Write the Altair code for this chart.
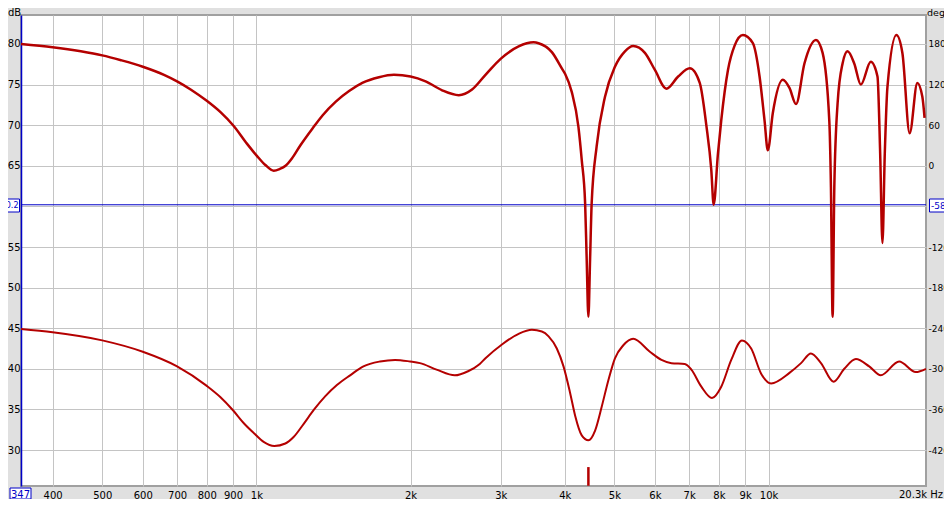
import altair as alt
import pandas as pd

# ---------------- data ----------------
# upper trace: measured level, Hz / dB
top_freq = [347, 400, 454, 500, 544, 600, 660, 700, 744, 800, 851, 903, 959, 1003,
            1041, 1081, 1110, 1140, 1173, 1218, 1287, 1346, 1429, 1517, 1610, 1735,
            1856, 2000, 2140, 2305, 2484, 2637, 2801, 3002, 3251, 3477, 3556, 3775,
            3948, 4008, 4128, 4254, 4318, 4384, 4415, 4449, 4483, 4515, 4617, 4794,
            5013, 5244, 5442, 5736, 6000, 6319, 6661, 7018, 7340, 7560, 7731, 7814,
            7966, 8085, 8333, 8586, 8913, 9320, 9605, 9822, 9968, 10195, 10662, 10987,
            11317, 11752, 12377, 12753, 13141, 13239, 13340, 13442, 13642, 13950,
            14267, 14701, 15144, 15837, 16321, 16520, 16690, 16866, 17068, 17770,
            18255, 18862, 19524, 19970, 20170]
top_db = [80.0, 79.6, 79.1, 78.6, 78.0, 77.2, 76.2, 75.4, 74.4, 73.0, 71.6, 69.9, 67.7, 66.2,
          65.1, 64.4, 64.6, 65.0, 65.9, 67.5, 69.6, 71.2, 72.9, 74.2, 75.2, 75.9,
          76.2, 76.0, 75.4, 74.3, 73.7, 74.4, 76.2, 78.2, 79.7, 80.2, 80.1, 79.0,
          77.0, 76.3, 74.1, 69.8, 65.7, 60.4, 53.5, 46.4, 53.5, 60.4, 67.4, 73.5,
          77.2, 79.1, 79.75, 78.9, 76.8, 74.5, 76.0, 77.0, 75.2, 70.0, 64.5, 60.2,
          66.5, 70.6, 76.8, 79.8, 81.1, 80.1, 76.0, 70.6, 66.9, 71.5, 75.6, 74.6,
          72.6, 77.6, 80.5, 78.9, 70.6, 62.4, 46.4, 62.4, 72.7, 77.6,
          79.1, 77.6, 75.0, 77.8, 76.0, 66.5, 55.5, 66.5, 74.7, 81.1,
          78.9, 69.0, 75.2, 73.5, 70.9]

# lower trace, Hz / dB
low_freq = [347, 400, 500, 600, 700, 800, 851, 900, 945, 988, 1033, 1084, 1139, 1182,
            1236, 1293, 1362, 1436, 1524, 1618, 1743, 1865, 1996, 2086, 2248, 2440,
            2590, 2730, 2801, 3016, 3251, 3451, 3609, 3720, 3860, 3978, 4099, 4193,
            4318, 4449, 4585, 4722, 4867, 5013, 5205, 5442, 5866, 6180, 6463, 6862,
            7069, 7393, 7756, 8085, 8457, 8872, 9250, 9674, 10116, 10987, 11574,
            12101, 12660, 13400, 14058, 14812, 15725, 16564, 17989, 19385, 20300]
low_db = [44.9, 44.5, 43.5, 42.1, 40.3, 37.9, 36.5, 34.9, 33.3, 32.1, 31.0, 30.5, 30.8, 31.6,
          33.2, 34.9, 36.6, 38.0, 39.2, 40.3, 40.9, 41.1, 40.9, 40.7, 39.9, 39.2,
          39.7, 40.6, 41.3, 43.0, 44.3, 44.8, 44.6, 44.0, 42.5, 40.3, 37.0, 34.2,
          31.8, 31.2, 32.4, 35.3, 38.6, 41.3, 42.9, 43.7, 42.1, 41.1, 40.7, 40.6,
          39.9, 37.8, 36.4, 37.8, 41.1, 43.5, 42.5, 39.4, 38.2, 39.5, 40.7,
          41.9, 40.7, 38.4, 40.0, 41.2, 40.3, 39.2, 40.9, 39.6, 40.0]

# short marker at the bottom edge
stub_freq = [4449]
stub_db = [27.9]
stub_db2 = [25.6]

x_ticks = [400, 500, 600, 700, 800, 900, 1000, 2000, 3000, 4000, 5000, 6000, 7000,
           8000, 9000, 10000]
y_ticks = [30, 35, 40, 45, 50, 55, 60, 65, 70, 75, 80]
cursor_db = [60.2]
cursor_deg_label = "-58"
cursor_db_label = "60.2"
x_start_label = "347"
x_end_label = "20.3k Hz"
left_title = "dB"
right_title = "deg"

# ---------------- styling ----------------
X_DOMAIN = [347, 20300]
Y_DOMAIN = [25.57, 83.57]
W, H = 905, 471
RED = "#b40000"
BLUE = "#0000c8"
GRID = "#c4c4c4"
FONT = "DejaVu Sans"
FS = 10

xs = alt.Scale(type="log", domain=X_DOMAIN, nice=False)
ys = alt.Scale(domain=Y_DOMAIN, nice=False, zero=False)

x_axis = alt.Axis(values=x_ticks,
                  labelExpr="datum.value >= 1000 ? (datum.value/1000) + 'k' : '' + datum.value",
                  title=None, grid=True, gridColor=GRID, gridWidth=1, ticks=False, tickSize=0,
                  domain=False, labelOverlap=False, labelFlush=False, labelPadding=12,
                  labelBaseline="alphabetic", labelFont=FONT, labelFontSize=FS,
                  labelColor="black")
left_axis = alt.Axis(values=y_ticks, orient="left",
                     labelExpr="datum.value == 60 ? '' : datum.label",
                     title=None, grid=True, gridColor=GRID, gridWidth=1, ticks=False, tickSize=0,
                     domain=True, domainColor=BLUE, domainWidth=1.5, labelPadding=1,
                     labelFont=FONT, labelFontSize=FS, labelColor="black",
                     labelOverlap=False, labelFlush=False)
right_axis = alt.Axis(values=y_ticks, orient="right",
                      labelExpr="datum.value == 60 ? '' : '' + ((datum.value - 65) * 12)",
                      title=None, grid=False, ticks=False, tickSize=0, domain=False,
                      labelPadding=2, labelAlign="left", labelFont=FONT, labelFontSize=9,
                      labelColor="black", labelOverlap=False, labelFlush=False)

top_df = pd.DataFrame({"f": top_freq, "db": top_db})
low_df = pd.DataFrame({"f": low_freq, "db": low_db})
stub_df = pd.DataFrame({"f": stub_freq, "db": stub_db, "db2": stub_db2})
cur_df = pd.DataFrame({"db": cursor_db})
one = pd.DataFrame({"a": [0]})

X = alt.X("f:Q", scale=xs, axis=x_axis)
Y = alt.Y("db:Q", scale=ys, axis=left_axis)

top_line = alt.Chart(top_df).mark_line(color=RED, strokeWidth=2.5, interpolate="monotone").encode(x=X, y=Y)
low_line = alt.Chart(low_df).mark_line(color=RED, strokeWidth=2, interpolate="monotone").encode(x=X, y=Y)
stub = alt.Chart(stub_df).mark_rule(color=RED, strokeWidth=2.5).encode(x=X, y=Y, y2="db2:Q")


def box(x1, x2, y1, y2):
    return alt.Chart(one).mark_rect(fill="white", stroke=BLUE, strokeWidth=1).encode(
        x=alt.value(x1), x2=alt.value(x2), y=alt.value(y1), y2=alt.value(y2))


def label(txt, x, y, align="left", baseline="alphabetic", color="black", size=FS):
    return alt.Chart(one).mark_text(text=txt, align=align, baseline=baseline, color=color,
                                    font=FONT, fontSize=size).encode(
        x=alt.value(x), y=alt.value(y))


annos = [
    box(-16, -1.5, 184, 197), label(cursor_db_label, -2.5, 191, "right", "middle", BLUE, 8),
    box(908.5, 925, 184, 197), label(cursor_deg_label, 910, 191, "left", "middle", BLUE, 9),
    box(-11, 10, 473, 484), label(x_start_label, -0.5, 482.5, "center", "alphabetic", BLUE),
    label(x_end_label, 922, 483, "right"),
    label(left_title, -13, 0.5, "left"),
    label(right_title, 906, 1, "left", size=9.5),
]

inner = alt.layer(top_line, low_line, stub, *annos)
rule = alt.Chart(cur_df).mark_rule(color=BLUE, strokeWidth=1).encode(
    y=alt.Y("db:Q", scale=ys, axis=right_axis))

chart = alt.layer(rule, inner).resolve_scale(y="independent").properties(
    width=W, height=H,
    padding={"left": 13, "top": 7, "right": 18, "bottom": 13},
    autosize=alt.AutoSizeParams(type="none"),
).configure(background="#e0e0e0").configure_view(fill="white", stroke="#a0a0a0", strokeWidth=2)

chart.save("out.html", embed_options={"renderer": "svg", "actions": False})
